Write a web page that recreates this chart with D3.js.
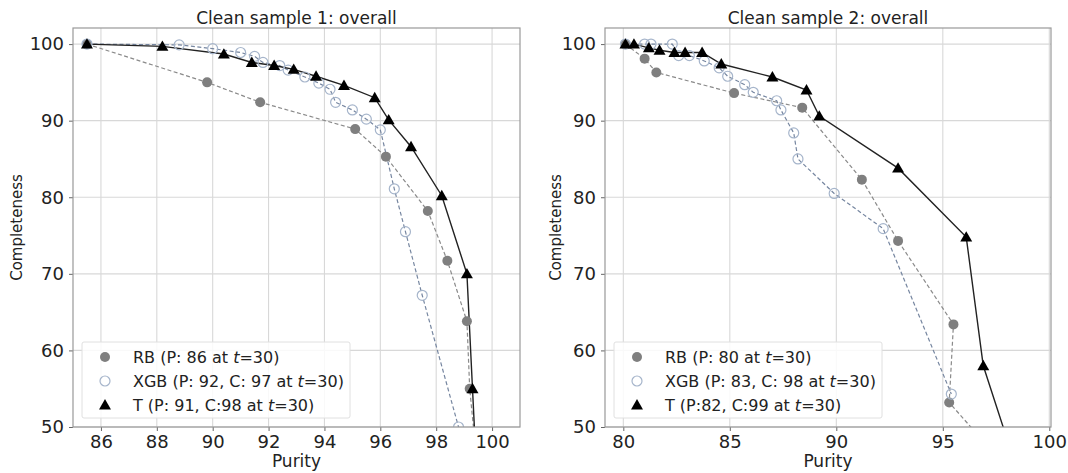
<!DOCTYPE html>
<html>
<head>
<meta charset="utf-8">
<script src="https://cdn.jsdelivr.net/npm/d3@7"></script>
<style>
  body { margin: 0; background: #fff; }
  svg { font-family: "DejaVu Sans", sans-serif; }
</style>
</head>
<body>
<svg id="chart" width="1068" height="473"></svg>
<script>
// ---- data (purity %, completeness %) ----
// sample 1
const rb1P  = [85.5, 89.8, 91.7, 95.1, 96.2, 97.7, 98.4, 99.1, 99.2, 99.6];
const rb1C  = [100, 95.0, 92.4, 88.9, 85.3, 78.2, 71.7, 63.8, 55.0, 40];
const xgb1P = [85.5, 88.8, 90.0, 91.0, 91.5, 91.8, 92.4, 92.7, 93.3, 93.8, 94.2, 94.4, 95.0, 95.5, 96.0, 96.5, 96.9, 97.5, 98.8, 99.2];
const xgb1C = [100, 99.9, 99.4, 98.9, 98.4, 97.6, 97.2, 96.6, 95.7, 94.9, 94.1, 92.4, 91.4, 90.2, 88.8, 81.1, 75.5, 67.2, 50.0, 44];
const t1P   = [85.5, 88.2, 90.4, 91.4, 92.2, 92.9, 93.7, 94.7, 95.8, 96.3, 97.1, 98.2, 99.1, 99.3, 99.5];
const t1C   = [100, 99.7, 98.7, 97.6, 97.2, 96.7, 95.8, 94.6, 93.0, 90.1, 86.6, 80.2, 70.0, 55.0, 40];
// sample 2
const rb2P  = [80.1, 81.0, 81.55, 85.2, 88.4, 91.2, 92.9, 95.5, 95.3, 97.9];
const rb2C  = [100, 98.1, 96.3, 93.6, 91.7, 82.3, 74.3, 63.4, 53.2, 45];
const xgb2P = [80.1, 81.0, 81.3, 82.3, 82.6, 83.1, 83.8, 84.5, 84.9, 85.7, 86.1, 87.2, 87.4, 88.0, 88.2, 89.9, 92.2, 95.4];
const xgb2C = [100, 100, 100, 100, 98.5, 98.5, 97.8, 96.9, 95.8, 94.7, 93.7, 92.6, 91.4, 88.4, 85.0, 80.5, 75.9, 54.3];
const t2P   = [80.1, 80.5, 81.2, 81.7, 82.4, 82.9, 83.7, 84.6, 87.0, 88.6, 89.2, 92.9, 96.1, 96.9, 99.0];
const t2C   = [100, 100, 99.5, 99.2, 98.9, 98.9, 98.9, 97.4, 95.7, 94.0, 90.6, 83.8, 74.8, 58.0, 40];

const xTicks1 = [86, 88, 90, 92, 94, 96, 98, 100];
const xTicks2 = [80, 85, 90, 95, 100];
const yTicks  = [50, 60, 70, 80, 90, 100];

const legend1 = [["RB (P: 86 at ", ")"], ["XGB (P: 92, C: 97 at ", ")"], ["T (P: 91, C:98 at ", ")"]];
const legend2 = [["RB (P: 80 at ", ")"], ["XGB (P: 83, C: 98 at ", ")"], ["T (P:82, C:99 at ", ")"]];

const zip = (p, c) => p.map((v, i) => ({ p: v, c: c[i] }));

const svg = d3.select('#chart');

const panels = [
    { title: 'Clean sample 1: overall', x0: 73, x1: 520, dom: [85, 101], ticks: xTicks1,
      rb: zip(rb1P, rb1C), xgb: zip(xgb1P, xgb1C), t: zip(t1P, t1C), legend: legend1,
      ylabX: 17 },
    { title: 'Clean sample 2: overall', x0: 605, x1: 1051, dom: [79.14, 100.08], ticks: xTicks2,
      rb: zip(rb2P, rb2C), xgb: zip(xgb2P, xgb2C), t: zip(t2P, t2C), legend: legend2,
      ylabX: 556 }
];

const plotTop = 28, plotBottom = 427;
const tri = d3.symbol().type(d3.symbolTriangle).size(62);

panels.forEach((pn, k) => {
    const x = d3.scaleLinear().domain(pn.dom).range([pn.x0, pn.x1]);
    const y = d3.scaleLinear().domain([50, 102.1]).range([plotBottom, plotTop]);
    const g = svg.append('g');

    g.append('clipPath').attr('id', 'clip' + k)
        .append('rect').attr('x', pn.x0).attr('y', plotTop)
        .attr('width', pn.x1 - pn.x0).attr('height', plotBottom - plotTop);

    // grid
    g.selectAll('.vg').data(pn.ticks).join('line')
        .attr('x1', d => x(d)).attr('x2', d => x(d))
        .attr('y1', plotTop).attr('y2', plotBottom)
        .attr('stroke', '#d8d8d8').attr('stroke-width', 1.1);
    g.selectAll('.hg').data(yTicks).join('line')
        .attr('y1', d => y(d)).attr('y2', d => y(d))
        .attr('x1', pn.x0).attr('x2', pn.x1)
        .attr('stroke', '#d8d8d8').attr('stroke-width', 1.1);

    // axes
    const xa = g.append('g').attr('transform', `translate(0,${plotBottom})`)
        .call(d3.axisBottom(x).tickValues(pn.ticks).tickSize(4).tickPadding(4));
    const ya = g.append('g').attr('transform', `translate(${pn.x0},0)`)
        .call(d3.axisLeft(y).tickValues(yTicks).tickSize(4).tickPadding(5));
    [xa, ya].forEach(a => {
        a.select('.domain').remove();
        a.selectAll('line').attr('stroke', '#666');
        a.selectAll('text').attr('font-size', 18).attr('fill', '#222')
            .attr('font-family', '"DejaVu Sans", sans-serif');
    });

    const plot = g.append('g').attr('clip-path', `url(#clip${k})`);
    const line = d3.line().x(d => x(d.p)).y(d => y(d.c));

    plot.append('path').datum(pn.rb).attr('d', line)
        .attr('fill', 'none').attr('stroke', '#8a8a8a').attr('stroke-width', 1.2)
        .attr('stroke-dasharray', '4,2.5');
    plot.append('path').datum(pn.xgb).attr('d', line)
        .attr('fill', 'none').attr('stroke', '#7686a0').attr('stroke-width', 1.2)
        .attr('stroke-dasharray', '4,2.5');
    plot.append('path').datum(pn.t).attr('d', line)
        .attr('fill', 'none').attr('stroke', '#222').attr('stroke-width', 1.4);

    plot.selectAll('.rb').data(pn.rb).join('circle')
        .attr('cx', d => x(d.p)).attr('cy', d => y(d.c)).attr('r', 5)
        .attr('fill', '#7f7f7f');
    plot.selectAll('.xgb').data(pn.xgb).join('circle')
        .attr('cx', d => x(d.p)).attr('cy', d => y(d.c)).attr('r', 5)
        .attr('fill', 'none').attr('stroke', '#a6b5cb').attr('stroke-width', 1.2);
    plot.selectAll('.t').data(pn.t).join('path')
        .attr('d', tri)
        .attr('transform', d => `translate(${x(d.p)},${y(d.c) + 1})`)
        .attr('fill', '#000');

    // frame
    g.append('rect').attr('x', pn.x0).attr('y', plotTop)
        .attr('width', pn.x1 - pn.x0).attr('height', plotBottom - plotTop)
        .attr('fill', 'none').attr('stroke', '#999').attr('stroke-width', 1.2);

    // title and labels
    g.append('text').attr('x', (pn.x0 + pn.x1) / 2).attr('y', 24)
        .attr('text-anchor', 'middle').attr('font-size', 17).attr('fill', '#222')
        .text(pn.title);
    g.append('text').attr('x', (pn.x0 + pn.x1) / 2).attr('y', 467)
        .attr('text-anchor', 'middle').attr('font-size', 17).attr('fill', '#222')
        .text('Purity');
    g.append('text')
        .attr('transform', `translate(${pn.ylabX},${(plotTop + plotBottom) / 2}) rotate(-90)`)
        .attr('text-anchor', 'middle').attr('dy', '0.35em').attr('font-size', 15).attr('fill', '#222')
        .text('Completeness');

    // legend
    const lx = pn.x0 + 9, ly = 342;
    const lg = g.append('g');
    lg.append('rect').attr('x', lx).attr('y', ly).attr('width', 268).attr('height', 76)
        .attr('fill', 'rgba(255,255,255,0.85)').attr('stroke', '#e0e0e0').attr('rx', 2);
    const rowY = i => ly + 15 + i * 24;
    const mx = lx + 23;
    lg.append('circle').attr('cx', mx).attr('cy', rowY(0)).attr('r', 5).attr('fill', '#7f7f7f');
    lg.append('circle').attr('cx', mx).attr('cy', rowY(1)).attr('r', 5)
        .attr('fill', 'none').attr('stroke', '#a6b5cb').attr('stroke-width', 1.2);
    lg.append('path').attr('d', tri).attr('transform', `translate(${mx},${rowY(2) + 1})`).attr('fill', '#000');
    pn.legend.forEach((parts, i) => {
        const tx = lg.append('text').attr('x', lx + 51).attr('y', rowY(i) + 6)
            .attr('font-size', 16).attr('fill', '#222');
        tx.append('tspan').text(parts[0]);
        tx.append('tspan').attr('font-style', 'italic').text('t');
        tx.append('tspan').text('=30' + parts[1]);
    });
});
</script>
</body>
</html>
